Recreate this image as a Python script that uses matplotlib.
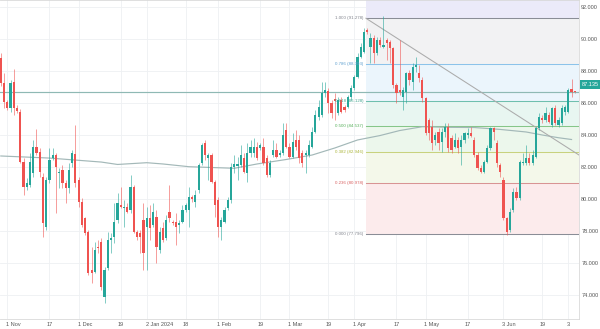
import matplotlib
matplotlib.use("Agg")
import matplotlib.pyplot as plt
import numpy as np

# daily candles, oldest first
opens = [88.79, 87.23, 86.04, 85.67, 87.29, 85.67, 85.42, 82.29, 80.73, 80.86,
         81.61, 83.23, 82.92, 81.36, 78.23, 81.17, 82.54, 82.73, 81.61, 81.79,
         80.98, 80.67, 82.23, 82.79, 81.17, 79.79, 78.79, 77.92, 75.54, 75.42,
         76.98, 77.29, 73.86, 75.67, 77.42, 77.61, 78.67, 79.61, 79.42, 79.48,
         79.29, 80.73, 77.92, 77.86, 78.67, 78.23, 78.79, 78.36, 78.86, 76.79,
         78.17, 77.54, 79.17, 78.54, 78.54, 78.36, 78.54, 79.29, 79.29, 80.11,
         79.79, 80.54, 82.23, 83.48, 82.54, 82.73, 81.04, 79.92, 78.23, 78.54,
         79.42, 79.92, 81.98, 82.04, 82.11, 82.54, 81.61, 82.86, 82.86, 83.23,
         83.17, 83.23, 82.54, 81.48, 82.73, 83.04, 82.73, 82.86, 84.29, 83.23,
         82.61, 83.67, 83.67, 82.86, 82.73, 82.73, 83.23, 84.17, 85.11, 85.23,
         86.61, 86.73, 85.98, 86.23, 85.36, 86.17, 85.73, 85.73, 86.36, 86.92,
         87.61, 88.86, 89.17, 90.54, 89.48, 90.04, 89.11, 89.92, 89.48, 89.92,
         89.79, 89.42, 87.11, 86.79, 86.36, 86.67, 87.86, 87.29, 88.23, 87.86,
         87.42, 86.29, 84.92, 84.48, 83.67, 84.17, 83.54, 84.17, 84.48, 83.79,
         83.23, 83.67, 83.23, 83.67, 83.98, 84.11, 83.67, 82.73, 81.92, 81.67,
         82.29, 83.17, 84.42, 83.48, 82.11, 81.17, 78.79, 78.04, 79.29, 80.42,
         80.04, 82.23, 82.23, 82.54, 82.23, 82.61, 84.42, 85.04, 84.92, 85.23,
         84.61, 85.67, 84.61, 84.73, 85.42, 85.42, 86.86, 86.67]
highs = [89.11, 87.86, 86.17, 87.42, 88.11, 85.86, 85.61, 82.54, 81.29, 82.86,
         83.67, 84.36, 83.17, 81.61, 81.36, 83.17, 83.17, 82.86, 81.92, 82.11,
         81.17, 82.23, 83.04, 84.61, 81.36, 80.04, 78.86, 78.04, 76.98, 77.29,
         77.42, 77.54, 75.73, 77.92, 77.86, 79.73, 80.36, 80.73, 79.92, 79.73,
         81.48, 80.86, 78.04, 78.04, 79.73, 79.48, 79.61, 79.73, 79.29, 78.23,
         78.54, 78.98, 80.86, 78.67, 79.11, 78.67, 79.61, 79.73, 80.73, 80.23,
         80.54, 82.23, 83.48, 83.67, 82.86, 82.86, 81.17, 80.11, 78.86, 79.48,
         80.11, 82.23, 82.73, 82.61, 83.36, 82.86, 83.48, 83.67, 83.79, 83.54,
         83.48, 83.79, 82.73, 82.42, 83.67, 83.48, 83.04, 84.73, 84.73, 83.48,
         84.11, 84.29, 83.98, 83.04, 83.04, 83.67, 84.48, 85.54, 86.17, 87.29,
         87.29, 86.92, 86.17, 86.61, 86.36, 86.36, 85.86, 86.48, 87.11, 87.73,
         89.11, 89.73, 90.67, 90.67, 90.36, 90.23, 90.11, 90.11, 91.42, 90.04,
         89.92, 89.48, 87.23, 89.92, 86.98, 87.92, 88.04, 88.48, 88.86, 88.36,
         87.61, 86.36, 85.04, 84.92, 84.17, 84.42, 84.42, 84.73, 84.73, 83.98,
         84.11, 83.86, 83.98, 84.17, 84.42, 84.48, 83.86, 82.92, 82.11, 82.42,
         83.36, 84.48, 84.48, 83.67, 82.23, 81.36, 78.86, 79.42, 80.67, 80.73,
         82.42, 82.86, 83.36, 82.86, 83.04, 84.48, 85.36, 85.23, 85.73, 85.42,
         85.73, 85.86, 85.11, 85.86, 85.86, 86.92, 87.48, 86.70]
lows = [87.04, 85.67, 85.54, 85.42, 85.23, 85.36, 82.23, 80.23, 80.54, 80.73,
        81.36, 82.73, 81.36, 77.61, 78.04, 80.98, 82.42, 79.11, 80.67, 80.67,
        79.73, 80.36, 81.98, 80.73, 79.48, 78.23, 77.73, 75.23, 74.73, 75.36,
        76.61, 74.29, 73.48, 75.54, 76.61, 77.23, 78.48, 79.42, 78.23, 79.11,
        79.11, 77.86, 77.42, 76.61, 75.54, 75.54, 77.42, 78.23, 75.98, 76.61,
        77.29, 77.42, 78.54, 78.36, 77.11, 77.86, 78.48, 79.17, 78.23, 79.79,
        79.48, 80.36, 82.11, 82.42, 81.17, 80.98, 78.86, 77.61, 77.42, 78.48,
        79.29, 79.73, 81.61, 81.17, 81.98, 81.61, 81.04, 82.61, 82.61, 82.42,
        83.04, 82.11, 81.36, 81.36, 82.61, 82.54, 82.61, 82.73, 83.17, 82.55,
        82.55, 83.04, 82.23, 81.98, 81.61, 82.61, 83.17, 84.11, 84.92, 85.11,
        86.36, 85.36, 85.04, 84.92, 85.23, 85.36, 85.42, 85.67, 86.17, 86.79,
        87.54, 88.79, 89.11, 90.29, 88.48, 88.48, 88.98, 89.48, 89.42, 88.67,
        88.48, 86.92, 85.98, 86.48, 85.54, 85.98, 87.11, 86.79, 87.92, 87.29,
        86.04, 83.98, 83.67, 83.04, 83.36, 83.04, 82.92, 83.86, 82.92, 82.86,
        83.17, 82.86, 82.11, 83.48, 83.79, 83.86, 82.61, 81.79, 81.61, 81.61,
        82.23, 83.04, 83.67, 81.98, 81.36, 78.67, 77.70, 77.92, 79.17, 79.92,
        79.92, 82.11, 82.11, 82.11, 82.11, 82.54, 84.29, 84.73, 84.79, 84.73,
        84.48, 84.61, 84.48, 84.61, 85.23, 85.36, 86.36, 86.60]
closes = [87.23, 86.04, 85.67, 87.23, 85.67, 85.48, 82.29, 80.73, 80.98, 82.29,
          83.23, 82.86, 81.67, 78.48, 81.17, 82.42, 82.73, 81.98, 81.67, 80.98,
          80.67, 81.79, 82.86, 80.98, 79.79, 78.36, 77.86, 75.36, 75.36, 76.79,
          76.92, 74.48, 75.54, 77.42, 77.54, 78.54, 79.73, 79.48, 79.48, 79.17,
          80.73, 77.92, 77.61, 77.61, 76.61, 78.79, 78.17, 79.17, 76.98, 77.92,
          77.42, 78.67, 78.79, 78.48, 78.23, 78.48, 79.29, 79.61, 80.11, 79.98,
          80.23, 82.11, 83.36, 82.73, 82.73, 81.04, 79.61, 78.23, 78.67, 79.29,
          79.92, 81.98, 82.17, 82.17, 82.73, 81.67, 82.86, 83.23, 83.23, 82.54,
          83.36, 82.23, 81.48, 82.23, 83.04, 82.61, 82.86, 83.98, 83.23, 82.61,
          83.54, 83.23, 82.54, 82.23, 82.86, 83.36, 84.17, 85.23, 85.73, 86.61,
          86.79, 85.98, 85.36, 86.11, 86.17, 85.42, 85.54, 86.36, 86.92, 87.61,
          88.86, 89.48, 90.42, 90.42, 90.04, 89.11, 89.92, 89.61, 89.61, 89.73,
          89.42, 87.11, 86.61, 86.67, 86.79, 87.86, 87.42, 88.23, 88.36, 87.54,
          86.29, 84.11, 84.11, 83.48, 83.98, 83.48, 84.17, 84.48, 83.17, 83.04,
          83.67, 83.17, 83.67, 84.11, 84.11, 83.92, 82.73, 81.92, 81.67, 82.29,
          83.17, 84.42, 84.17, 82.23, 81.67, 78.79, 77.92, 79.17, 80.42, 80.04,
          82.29, 82.29, 82.54, 82.23, 82.73, 84.42, 85.11, 84.92, 85.36, 84.79,
          85.67, 84.73, 84.92, 85.67, 85.73, 86.79, 86.67, 86.65]

# moving average, read at a few bars
ma_idx = [0, 15, 31, 36, 45, 50, 58, 72, 79, 88, 96, 103, 110, 117, 123, 130,
          138, 146, 154, 162, 167, 172, 176]
ma_val = [82.67, 82.54, 82.29, 82.14, 82.25, 82.17, 82.00, 81.90, 82.17, 82.45,
          82.73, 83.17, 83.67, 83.95, 84.26, 84.50, 84.46, 84.45, 84.33, 84.17,
          83.98, 83.81, 83.70]

tick_idx = [2, 15, 24, 37, 45, 57, 67, 80, 89, 101, 109, 122, 131, 144, 155, 167, 175]
tick_lbl = ["1 Nov", "17", "1 Dec", "19", "2 Jan 2024", "18", "1 Feb", "19",
            "1 Mar", "19", "1 Apr", "17", "1 May", "17", "3 Jun", "19", "3"]

price_ticks = [74, 76, 78, 80, 82, 84, 86, 88, 90, 92]

# drawings
fib_high = 91.278
fib_low = 77.796
fib_start = 112.6
fib_levels = [1.0, 0.786, 0.618, 0.5, 0.382, 0.236, 0.0]
fib_line_col = ["#8a8d96", "#8cc3ea", "#6fbfae", "#86c689", "#c8d27e", "#d89494", "#8a8d96"]
fib_text_col = ["#80838c", "#5d9fcf", "#45a68f", "#55af5a", "#aab53a", "#d86060", "#80838c"]
fib_band_col = ["#ebeaf9", "#f2f2f3", "#ebf5fc", "#e8f6f1", "#ecf7ec", "#f4f8ea", "#fcebec"]
trend_start = (112.6, 91.278)
trend_end = (178.3, 82.73)
hline_price = 86.65
last_price = 87.135

up_col = "#26a69a"
down_col = "#ef5350"

plt.rcParams['font.family'] = ['Liberation Sans', 'DejaVu Sans']

fig = plt.figure(figsize=(6, 3.29), dpi=100)
ax = fig.add_axes([0, 10 / 329, 579 / 600, 319 / 329])

x0, x1 = -0.25, 178.3
y0, y1 = 72.48, 92.42
ax.set_xlim(x0, x1)
ax.set_ylim(y0, y1)

# grid
for t in tick_idx:
    ax.axvline(t, color="#eef0f3", lw=0.6, zorder=0)
for p in price_ticks:
    ax.axhline(p, color="#eef0f3", lw=0.6, zorder=0)

# fib retracement bands, lines and labels
prices = [fib_low + lv * (fib_high - fib_low) for lv in fib_levels]
ax.fill_between([fib_start, x1], prices[0], y1, color=fib_band_col[0], lw=0, zorder=0.5)
for k in range(len(prices) - 1):
    ax.fill_between([fib_start, x1], prices[k + 1], prices[k],
                    color=fib_band_col[k + 1], lw=0, zorder=0.5)
for lv, pr, lc, tc in zip(fib_levels, prices, fib_line_col, fib_text_col):
    ax.plot([fib_start, x1], [pr, pr], color=lc, lw=0.75, zorder=1)
    ax.text(fib_start - 0.9, pr, f"{lv:.3f} ({pr:.3f})", color=tc, fontsize=3.2,
            ha="right", va="center", zorder=5)

# moving average, horizontal level and trend line
ax.plot(ma_idx, ma_val, color="#a3b8b8", lw=0.85, zorder=2)
ax.axhline(hline_price, color="#8fb9b4", lw=0.85, zorder=2)
ax.plot([trend_start[0], trend_end[0]], [trend_start[1], trend_end[1]],
        color="#ababab", lw=0.75, zorder=2.5)

# candles
idx = np.arange(len(closes))
o = np.array(opens)
c = np.array(closes)
h = np.array(highs)
l = np.array(lows)
cols = np.where(c >= o, up_col, down_col)
ax.vlines(idx, l, h, colors=cols, lw=0.5, alpha=0.8, zorder=3)
body = np.maximum(np.abs(c - o), 0.06)
ax.bar(idx, body, bottom=np.minimum(o, c), width=0.68, color=cols, lw=0, zorder=3.5)

# axes styling
ax.spines["left"].set_visible(False)
for side in ["right", "bottom", "top"]:
    ax.spines[side].set_color("#d9d9d9")
    ax.spines[side].set_linewidth(0.6)

ax.yaxis.tick_right()
ax.set_yticks(price_ticks)
ax.set_yticklabels([f"{p:.3f}" for p in price_ticks])
ax.tick_params(axis="y", length=0, pad=1.6, labelsize=4.0, labelcolor="#555555")

ax.set_xticks([])
for t, lab in zip(tick_idx, tick_lbl):
    if " " in lab:
        ax.text(t - 0.35, -0.008, lab, transform=ax.get_xaxis_transform(),
                ha="left", va="top", fontsize=4.0, color="#555555")
    else:
        ax.text(t, -0.008, lab, transform=ax.get_xaxis_transform(),
                ha="center", va="top", fontsize=4.0, color="#555555")

# last price tag on the price scale
ax.text(1.004, last_price, f"{last_price:.3f}", transform=ax.get_yaxis_transform(),
        ha="left", va="center", fontsize=4.0, color="white", clip_on=False,
        bbox=dict(boxstyle="square,pad=0.3", fc="#26a69a", ec="none"), zorder=6)

fig.savefig("out.png", dpi=100)
